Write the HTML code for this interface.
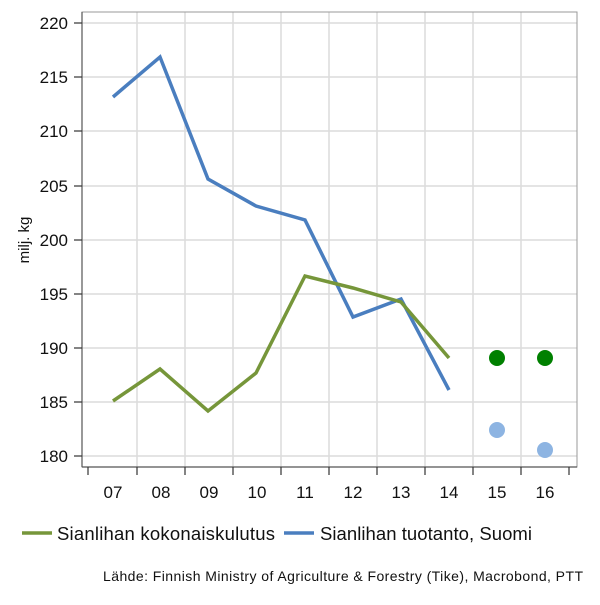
<!DOCTYPE html>
<html><head><meta charset="utf-8"><style>body{margin:0;background:#fff}</style></head><body>
<svg width="600" height="600" xmlns="http://www.w3.org/2000/svg" font-family="Liberation Sans, sans-serif">
<rect width="600" height="600" fill="#fff"/>
<g stroke="#dcdcdc" stroke-width="1.5">
<line x1="82" x2="577" y1="23" y2="23"/><line x1="82" x2="577" y1="77" y2="77"/><line x1="82" x2="577" y1="131" y2="131"/><line x1="82" x2="577" y1="186" y2="186"/><line x1="82" x2="577" y1="240" y2="240"/><line x1="82" x2="577" y1="294" y2="294"/><line x1="82" x2="577" y1="348" y2="348"/><line x1="82" x2="577" y1="402" y2="402"/><line x1="82" x2="577" y1="456" y2="456"/>
<line x1="137" x2="137" y1="12" y2="467"/><line x1="185" x2="185" y1="12" y2="467"/><line x1="233" x2="233" y1="12" y2="467"/><line x1="281" x2="281" y1="12" y2="467"/><line x1="329" x2="329" y1="12" y2="467"/><line x1="377" x2="377" y1="12" y2="467"/><line x1="425" x2="425" y1="12" y2="467"/><line x1="473" x2="473" y1="12" y2="467"/><line x1="521" x2="521" y1="12" y2="467"/>
</g>
<rect x="82" y="12" width="495" height="455" fill="none" stroke="#999" stroke-width="1"/>
<line x1="82" y1="12" x2="82" y2="467" stroke="#555" stroke-width="1.2"/>
<line x1="82" y1="467" x2="577" y2="467" stroke="#555" stroke-width="1.2"/>
<g stroke="#333" stroke-width="1.2">
<line x1="74" x2="82" y1="23" y2="23"/><line x1="74" x2="82" y1="77" y2="77"/><line x1="74" x2="82" y1="131" y2="131"/><line x1="74" x2="82" y1="186" y2="186"/><line x1="74" x2="82" y1="240" y2="240"/><line x1="74" x2="82" y1="294" y2="294"/><line x1="74" x2="82" y1="348" y2="348"/><line x1="74" x2="82" y1="402" y2="402"/><line x1="74" x2="82" y1="456" y2="456"/>
<line x1="88" x2="88" y1="467" y2="475"/><line x1="137" x2="137" y1="467" y2="475"/><line x1="185" x2="185" y1="467" y2="475"/><line x1="233" x2="233" y1="467" y2="475"/><line x1="281" x2="281" y1="467" y2="475"/><line x1="329" x2="329" y1="467" y2="475"/><line x1="377" x2="377" y1="467" y2="475"/><line x1="425" x2="425" y1="467" y2="475"/><line x1="473" x2="473" y1="467" y2="475"/><line x1="521" x2="521" y1="467" y2="475"/><line x1="569" x2="569" y1="467" y2="475"/>
</g>
<g font-size="17" fill="#111" text-anchor="end">
<text x="68" y="29">220</text><text x="68" y="83">215</text><text x="68" y="137">210</text><text x="68" y="192">205</text><text x="68" y="246">200</text><text x="68" y="300">195</text><text x="68" y="354">190</text><text x="68" y="408">185</text><text x="68" y="462">180</text>
</g>
<g font-size="17" fill="#111" text-anchor="middle">
<text x="113" y="498">07</text><text x="161" y="498">08</text><text x="209" y="498">09</text><text x="257" y="498">10</text><text x="305" y="498">11</text><text x="353" y="498">12</text><text x="401" y="498">13</text><text x="449" y="498">14</text><text x="497" y="498">15</text><text x="545" y="498">16</text>
</g>
<text transform="translate(29,240) rotate(-90)" font-size="15" text-anchor="middle" fill="#111">milj. kg</text>
<polyline fill="none" stroke="#4a7ebf" stroke-width="3.5" points="113,97 160,57 208,179 256,206 305,220 353,317 401,299 449,390"/>
<polyline fill="none" stroke="#76963a" stroke-width="3.5" points="113,401 160,369 208,411 256,373 305,276 353,288 401,302 449,358"/>
<circle cx="497" cy="358" r="8" fill="#008000"/><circle cx="545" cy="358" r="8" fill="#008000"/>
<circle cx="497" cy="430" r="8" fill="#8db4e2"/><circle cx="545" cy="450" r="8" fill="#8db4e2"/>
<line x1="22" x2="52" y1="533" y2="533" stroke="#76963a" stroke-width="3.5"/>
<text x="57" y="540" font-size="18.5" fill="#111" textLength="218">Sianlihan kokonaiskulutus</text>
<line x1="284" x2="314" y1="533" y2="533" stroke="#4a7ebf" stroke-width="3.5"/>
<text x="320" y="540" font-size="18.5" fill="#111" textLength="212">Sianlihan tuotanto, Suomi</text>
<text x="103" y="581" font-size="14" fill="#111" textLength="480">Lähde: Finnish Ministry of Agriculture &amp; Forestry (Tike), Macrobond, PTT</text>
</svg>
</body></html>
